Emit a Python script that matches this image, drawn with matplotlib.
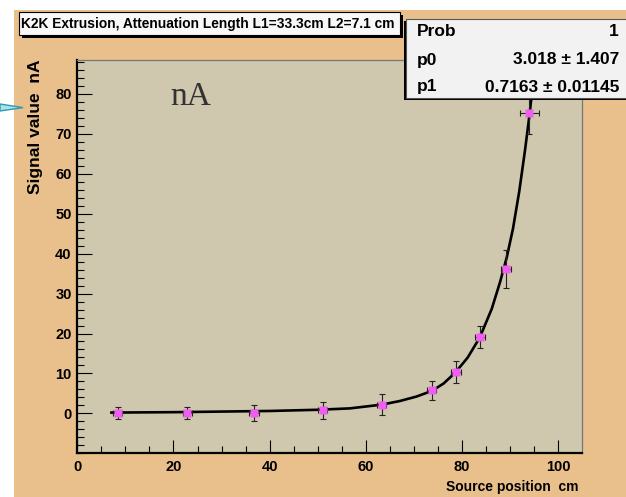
import matplotlib.pyplot as plt
from matplotlib.patches import Rectangle, Polygon

# measured points (source position cm, signal nA)
pos = [8.4, 22.9, 36.8, 51.0, 63.3, 73.7, 78.7, 83.8, 89.1, 94.0]
signal = [0.0, 0.2, 0.2, 0.8, 2.2, 5.8, 10.3, 19.2, 36.2, 75.3]
pos_err = [1.0, 1.0, 1.0, 1.0, 1.0, 1.0, 1.0, 1.0, 1.0, 2.0]
signal_err = [1.5, 1.5, 2.0, 2.1, 2.6, 2.4, 2.75, 2.8, 4.7, 5.3]

# fit curve
fit_x = [7.1, 20, 30, 40, 50, 56.7, 63.4, 67.1, 70.5, 73.7, 76.2, 78.6, 81.2,
         83.7, 86.2, 87.9, 89.3, 90.6, 91.9, 93.1, 94.1, 95.0, 95.4]
fit_y = [0.2, 0.3, 0.45, 0.6, 0.9, 1.25, 2.2, 3.1, 4.2, 5.6, 7.5, 10.2, 14.0,
         19.0, 26.2, 32.8, 39.0, 46.2, 55.5, 65.8, 75.3, 85.5, 90.0]

stat_names = ["Prob", "p0", "p1"]
stat_values = ["1", "3.018 \u00b1 1.407", "0.7163 \u00b1 0.01145"]

title = "K2K Extrusion, Attenuation Length L1=33.3cm L2=7.1 cm"

W, H = 626, 497
sans = ['Liberation Sans', 'DejaVu Sans']


def px(x, y):
    # pixel (from top-left) -> figure fraction
    return x / W, 1 - y / H


fig = plt.figure(figsize=(W / 100, H / 100), dpi=100)
fig.patch.set_facecolor("white")

# orange canvas
x0, y0 = px(14, 497)
fig.patches.append(Rectangle((x0, y0), 1 - x0, 1 - 9.5 / H, transform=fig.transFigure,
                             facecolor="#e9bf8b", edgecolor="none", zorder=-2))

# cyan arrow stub on the left edge
arrow = [px(0, 104), px(23, 107.6), px(0, 111)]
fig.patches.append(Polygon(arrow, closed=True, transform=fig.transFigure,
                           facecolor="#a8e2ea", edgecolor="#2f9aae", lw=1.0, zorder=5))

ax = fig.add_axes([77.3 / W, 43.7 / H, (581.7 - 77.3) / W, (453.3 - 60) / H])
ax.set_zorder(1)
ax.set_facecolor("#cfc8ae")

ax.plot(fit_x, fit_y, color="black", lw=1.9, zorder=3)
ax.errorbar(pos, signal, xerr=pos_err, yerr=signal_err, fmt="none", ecolor="#222222",
            elinewidth=0.8, capsize=2, capthick=0.8, zorder=4)
ax.plot(pos, signal, "s", color="#f25cf2", markersize=6.3, mec="none", zorder=5)

ax.set_xlim(0, 104.9)
ax.set_ylim(-10, 88.5)
ax.set_xticks([0, 20, 40, 60, 80, 100])
ax.set_xticks(range(0, 105, 5), minor=True)
ax.set_yticks(range(0, 81, 10))
ax.set_yticks(range(-10, 89, 2), minor=True)

for s in ["left", "bottom"]:
    ax.spines[s].set_color("black")
    ax.spines[s].set_linewidth(1.6)
for s in ["top", "right"]:
    ax.spines[s].set_color("#777777")
    ax.spines[s].set_linewidth(0.9)

ax.tick_params(which="both", direction="in", top=False, right=False, width=0.8, color="black")
ax.tick_params(axis="x", which="major", length=9.5, pad=5)
ax.tick_params(axis="x", which="minor", length=5)
ax.tick_params(axis="y", which="major", length=10.5, pad=4)
ax.tick_params(axis="y", which="minor", length=5)
for lab in ax.get_xticklabels() + ax.get_yticklabels():
    lab.set_fontweight("bold")
    lab.set_fontsize(10.5)
    lab.set_family(sans)

ax.text(0.184, 0.8856, "nA", transform=ax.transAxes, fontsize=24, color="#333333",
        family=['Liberation Serif', 'DejaVu Serif'], ha="left", va="baseline")

# axis titles, ROOT style (right / top aligned)
fig.text(*px(36, 60), "Signal value  nA", rotation=90, ha="center", va="top",
         fontsize=12.5, fontweight="bold", family=sans)
fig.text(*px(579, 487), "Source position  cm", ha="right", va="center",
         fontsize=10, fontweight="bold", family=sans)

# title box with shadow
bx, by = px(19, 35)
fig.patches.append(Rectangle((bx + 2.5 / W, by - 2.5 / H), 381 / W, 23 / H,
                             transform=fig.transFigure, facecolor="black", edgecolor="none", zorder=6))
fig.patches.append(Rectangle((bx, by), 381 / W, 23 / H, transform=fig.transFigure,
                             facecolor="#f8f8f8", edgecolor="black", lw=0.8, zorder=7))
fig.text(*px(21, 24), title, ha="left", va="center", fontsize=9.9, fontweight="bold",
         family=sans, zorder=8)

# stats box with shadow
sx, sy = px(406, 98)
fig.patches.append(Rectangle((sx - 2 / W, sy - 2.5 / H), 1.0, 79 / H,
                             transform=fig.transFigure, facecolor="black", edgecolor="none", zorder=6))
fig.patches.append(Rectangle((sx, sy), 1.0, 79 / H, transform=fig.transFigure,
                             facecolor="#f2f2f2", edgecolor="#555555", lw=0.8, zorder=7))
rows = [31, 60, 87]
for name, val, ry in zip(stat_names, stat_values, rows):
    fig.text(*px(417, ry), name, ha="left", va="center", fontsize=12.5, fontweight="bold",
             family=sans, zorder=8)
    fig.text(*px(619, ry), val, ha="right", va="center", fontsize=12.5, fontweight="bold",
             family=sans, zorder=8)

fig.savefig("out.png", dpi=100)
